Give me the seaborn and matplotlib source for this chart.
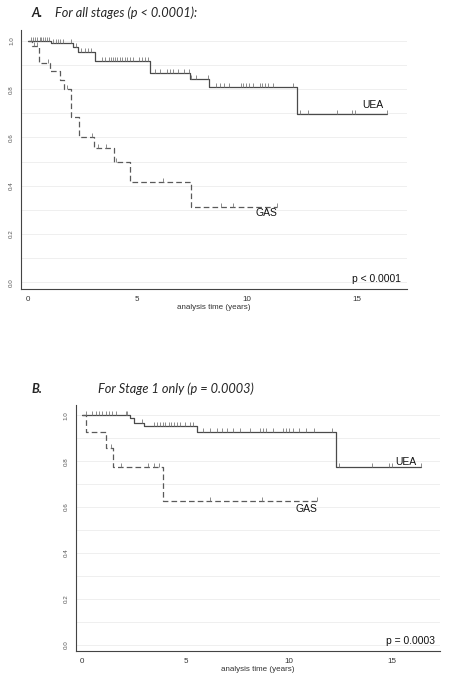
import numpy as np
import pandas as pd
import matplotlib
matplotlib.use("Agg")
import matplotlib.pyplot as plt
from matplotlib.path import Path
import seaborn as sns

# ---------------- data ----------------
# Panel A: all stages
A_uea_times = [0, 1.08, 2.07, 2.3, 3.06, 5.57, 7.40, 8.28, 12.3, 16.38]
A_uea_surv = [1.0, 0.99, 0.974, 0.953, 0.916, 0.868, 0.840, 0.809, 0.699, 0.699]
A_uea_censor = [0.15, 0.25, 0.35, 0.45, 0.55, 0.62, 0.7, 0.8, 0.88, 0.98,
                1.15, 1.3, 1.4, 1.5, 1.6, 2.0, 2.2, 2.45, 2.6, 2.75, 2.9,
                3.4, 3.55, 3.7, 3.8, 3.9, 4.0, 4.1, 4.2, 4.3, 4.45, 4.55, 4.65,
                4.8, 5.1, 5.2, 5.35, 5.5, 5.83, 6.03, 6.36, 6.48, 6.63, 6.86,
                7.12, 7.35, 7.47, 7.67, 8.23, 8.58, 8.77, 8.96, 9.19, 9.71,
                9.83, 9.95, 10.1, 10.29, 10.59, 10.67, 10.82, 10.97, 11.2,
                12.11, 12.42, 12.8, 14.1, 14.78, 14.93, 16.38]
A_gas_times = [0, 0.21, 0.52, 1.0, 1.46, 1.64, 2.0, 2.34, 3.01, 3.93, 4.67, 7.47, 11.38]
A_gas_surv = [1.0, 0.98, 0.909, 0.877, 0.836, 0.80, 0.685, 0.602, 0.558, 0.50, 0.417, 0.313, 0.313]
A_gas_censor = [0.3, 0.45, 0.95, 1.81, 2.95, 3.21, 3.56, 4.05, 6.18, 8.81, 9.37, 11.38]

# Panel B: stage 1 only
B_uea_times = [0, 2.3, 2.51, 3.02, 5.58, 12.29, 16.36]
B_uea_surv = [1.0, 0.987, 0.968, 0.953, 0.926, 0.773, 0.773]
B_uea_censor = [0.19, 0.51, 0.67, 0.83, 0.99, 1.15, 1.31, 1.47, 1.63, 2.11, 2.19,
                2.91, 3.47, 3.63, 3.79, 3.9, 4.03, 4.19, 4.32, 4.43, 4.59, 4.75,
                4.99, 5.23, 5.39, 5.87, 6.19, 6.51, 6.75, 6.99, 7.3, 7.63, 8.1,
                8.58, 8.74, 8.9, 9.22, 9.7, 9.86, 10.02, 10.18, 10.5, 10.83,
                11.22, 12.1, 12.4, 14.02, 14.82, 14.98, 16.36]
B_gas_times = [0, 0.22, 1.15, 1.5, 3.9, 11.35]
B_gas_surv = [1.0, 0.926, 0.856, 0.775, 0.627, 0.627]
B_gas_censor = [1.39, 1.87, 3.2, 3.47, 3.71, 6.2, 8.7, 11.35]

groups = ["UEA", "GAS"]
x_label = "analysis time (years)"
x_ticklabels = ["0", "5", "10", "15"]
y_ticklabels = ["0.0", "0.2", "0.4", "0.6", "0.8", "1.0"]

# ---------------- styling ----------------
sns.set_style("white")
plt.rcParams["font.family"] = ["Liberation Sans", "DejaVu Sans"]

fig = plt.figure(figsize=(4.51, 6.82), dpi=100)

tick_path = Path([(0, 0), (0, 1)], [Path.MOVETO, Path.LINETO])
line_col = {"UEA": "#4a4a4a", "GAS": "#5a5a5a"}


def surv_at(times, surv, t):
    idx = np.searchsorted(np.asarray(times), t, side="right") - 1
    return np.asarray(surv)[idx]


def panel(ax, uea_t, uea_s, uea_c, gas_t, gas_s, gas_c, ptext,
          uea_lab_xy, gas_lab_xy):
    df = pd.concat([
        pd.DataFrame({"time": uea_t, "surv": uea_s, "group": "UEA"}),
        pd.DataFrame({"time": gas_t, "surv": gas_s, "group": "GAS"}),
    ])
    # grid
    for yv in np.arange(0, 1.01, 0.1):
        ax.axhline(yv, color="#ececec", lw=0.6, zorder=0)
    sns.lineplot(data=df, x="time", y="surv", hue="group", style="group",
                 palette=line_col, dashes={"UEA": "", "GAS": (4.5, 2.5)},
                 drawstyle="steps-post", estimator=None, legend=False,
                 lw=0.9, ax=ax, zorder=3)
    for t, s, c in ((uea_t, uea_s, uea_c), (gas_t, gas_s, gas_c)):
        cy = surv_at(t, s, np.asarray(c))
        ax.plot(c, cy, linestyle="none", marker=tick_path, markersize=6,
                markeredgewidth=0.6, color="#7a7a7a", zorder=4)
    ax.set_xlim(-0.3, 17.3)
    ax.set_ylim(-0.028, 1.045)
    ax.set_xticks(np.arange(0, 18, 1))
    ax.set_xticklabels([x_ticklabels[i // 5] if i % 5 == 0 and i // 5 < 4 else ""
                        for i in range(18)])
    ax.set_yticks(np.arange(0, 1.01, 0.1))
    ax.set_yticklabels([y_ticklabels[i // 2] if i % 2 == 0 else "" for i in range(11)],
                       rotation=90, va="center")
    ax.tick_params(axis="x", length=3, width=0.6, color="#444", labelsize=5.8,
                   pad=2, labelcolor="#333")
    ax.tick_params(axis="y", length=3, width=0.6, color="#444", labelsize=4.5,
                   pad=2, labelcolor="#555")
    for sp in ("top", "right"):
        ax.spines[sp].set_visible(False)
    for sp in ("left", "bottom"):
        ax.spines[sp].set_color("#444")
        ax.spines[sp].set_linewidth(0.8)
    ax.set_xlabel(x_label, fontsize=5.8, labelpad=1, color="#333")
    ax.set_ylabel("")
    ax.text(uea_lab_xy[0], uea_lab_xy[1], "UEA", fontsize=7.5, ha="center",
            va="center", color="#111")
    ax.text(gas_lab_xy[0], gas_lab_xy[1], "GAS", fontsize=7.5, ha="center",
            va="center", color="#111")
    ax.text(1.0 - 0.015, 0.04, ptext, transform=ax.transAxes, fontsize=7.4,
            ha="right", va="center", color="#111")


W, H = 451, 682
axA = fig.add_axes([21 / W, 1 - 289 / H, (407 - 21) / W, (289 - 30) / H])
panel(axA, A_uea_times, A_uea_surv, A_uea_censor, A_gas_times, A_gas_surv,
      A_gas_censor, "p < 0.0001", (15.75, 0.735), (10.9, 0.285))

axB = fig.add_axes([75.7 / W, 1 - 651 / H, (440 - 75.7) / W, (651 - 405) / H])
panel(axB, B_uea_times, B_uea_surv, B_uea_censor, B_gas_times, B_gas_surv,
      B_gas_censor, "p = 0.0003", (15.65, 0.795), (10.85, 0.59))

title_font = ["Lato", "DejaVu Sans"]
fig.text(32 / W, 1 - 13 / H, "A.", fontsize=9.2, fontweight="bold", style="italic",
         family=title_font, va="center", ha="left")
fig.text(55 / W, 1 - 13 / H, "For all stages (p < 0.0001):", fontsize=9.2,
         style="italic", family=title_font, va="center", ha="left")
fig.text(32 / W, 1 - 389 / H, "B.", fontsize=9.2, fontweight="bold", style="italic",
         family=title_font, va="center", ha="left")
fig.text(98 / W, 1 - 389 / H, "For Stage 1 only (p = 0.0003)", fontsize=9.2,
         style="italic", family=title_font, va="center", ha="left")

fig.savefig("out.png", dpi=100, facecolor="white")
